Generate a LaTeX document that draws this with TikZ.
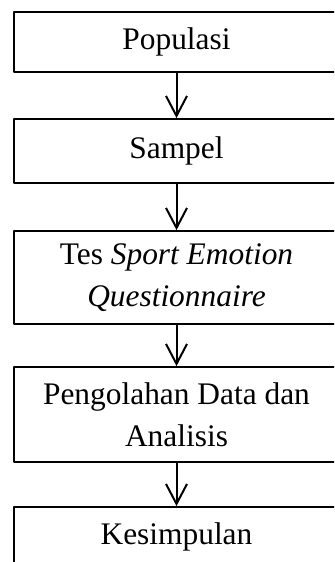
\documentclass[tikz,border=0pt]{standalone}
\usepackage{fontspec}
\setmainfont{Liberation Serif}
\usetikzlibrary{arrows.meta}
\tikzset{
  stepbox/.style={draw, line width=0.9pt, minimum width=162.5pt, inner sep=0pt,
    align=center, font=\fontsize{15.7}{21}\selectfont},
  flow/.style={draw, line width=1pt, -{Straight Barb[length=10pt, width=10.5pt]}}
}
\begin{document}
\begin{tikzpicture}
% diagram laid out in pixel units of the page
\def\pxsz{0.5pt}
\begin{scope}[x=\pxsz, y=-\pxsz, line cap=round, line join=round]
  \useasboundingbox (0,0) rectangle (334,562);
  \clip (0,0) rectangle (334,562);
  % Steps
  \node[stepbox, minimum height=30pt] (populasi) at (176.5,42) {Populasi};
  \node[stepbox, minimum height=32pt] (sampel) at (176.5,151) {Sampel};
  \node[stepbox, minimum height=46.5pt] (tes) at (176.5,277.5)
    {Tes \textit{Sport Emotion}\\\textit{Questionnaire}};
  \node[stepbox, minimum height=47.5pt] (olah) at (176.5,414.5)
    {Pengolahan Data dan\\Analisis};
  \node[stepbox, minimum height=30pt] (simpul) at (176.5,537) {Kesimpulan};
  % Arrows between steps
  \draw[flow] (populasi) -- (sampel);
  \draw[flow] (sampel) -- (tes);
  \draw[flow] (tes) -- (olah);
  \draw[flow] (olah) -- (simpul);
\end{scope}
\end{tikzpicture}
\end{document}
